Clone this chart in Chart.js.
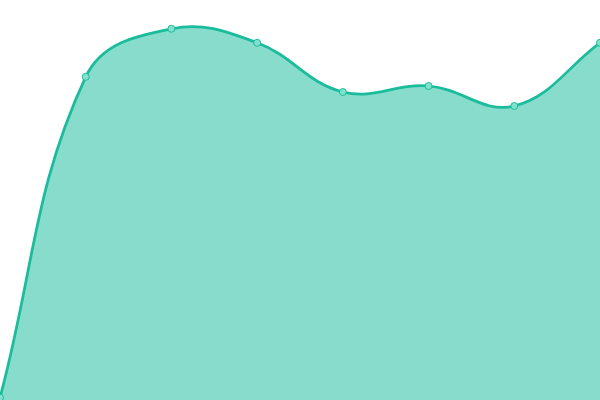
<!DOCTYPE html>
<html><head><meta charset="utf-8">
<script src="https://cdn.jsdelivr.net/npm/chart.js@4"></script>
<style>html,body{margin:0;padding:0;background:#fff}#wrap{width:600px;height:400px}</style>
</head><body><div id="wrap"><canvas id="c"></canvas></div>
<script>
const labels = ["1","2","3","4","5","6","7","8"];
const values = [0.6, 80.8, 92.8, 89.3, 77, 78.5, 73.5, 89.3];
new Chart(document.getElementById('c'), {
  type: 'line',
  data: { labels: labels, datasets: [{
    data: values,
    borderColor: '#1abc9c',
    backgroundColor: 'rgba(26,188,156,0.52)',
    fill: true,
    tension: 0.4,
    borderWidth: 2.75,
    pointRadius: 3.5,
    pointBorderWidth: 1,
    pointBackgroundColor: 'rgba(130,225,205,1)',
    pointBorderColor: '#1abc9c'
  }]},
  options: {
    responsive: true, maintainAspectRatio: false, animation: false,
    layout: { padding: 0, autoPadding: false },
    plugins: { legend: { display: false }, tooltip: { enabled: false } },
    scales: {
      x: { display: false },
      y: { display: false, min: 0, max: 100 }
    }
  }
});
</script></body></html>
